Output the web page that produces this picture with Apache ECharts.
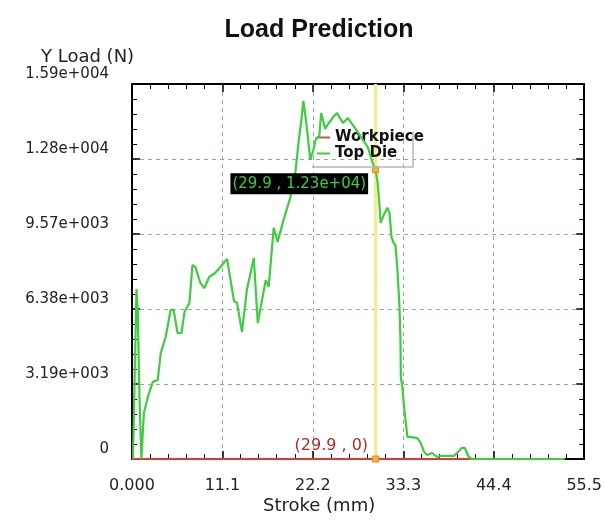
<!DOCTYPE html>
<html>
<head>
<meta charset="utf-8">
<script src="https://cdn.jsdelivr.net/npm/echarts@6/dist/echarts.min.js"></script>
<style>
  html, body { margin: 0; padding: 0; background: #fff; }
  #chart { width: 605px; height: 529px; }
</style>
</head>
<body>
<div id="chart"></div>
<script>
// tick labels as printed by the solver
const xTickLabels = ['0.000', '11.1', '22.2', '33.3', '44.4', '55.5'];
const yTickLabels = ['0', '3.19e+003', '6.38e+003', '9.57e+003', '1.28e+004', '1.59e+004'];
const xStep = 11.1;
const yStep = 3190;

// Top Die load curve, stroke (mm) / load (N)
const topDieStroke = [
  0.12, 0.55, 0.70, 0.92, 1.15, 1.46, 1.95, 2.55, 3.16, 3.53,
  4.13, 4.74, 5.11, 5.59, 6.08, 6.44, 7.05, 7.42, 7.78, 8.39,
  8.88, 9.48, 10.21, 11.06, 11.67, 11.91, 12.52, 12.89, 13.50, 14.10,
  14.95, 15.44, 16.41, 16.78, 17.39, 17.87, 18.60, 19.45, 20.06, 20.43,
  20.79, 21.03, 21.40, 21.88, 22.25, 22.61, 22.98, 23.22, 23.71, 24.07,
  24.44, 24.80, 25.17, 25.53, 25.90, 26.50, 27.36, 28.08, 28.94, 29.54,
  29.90, 30.15, 30.39, 30.52, 31.00, 31.37, 31.61, 31.85, 32.10, 32.34,
  32.58, 32.83, 32.95, 33.00, 33.19, 33.43, 33.80, 34.16, 35.01, 35.38,
  35.86, 36.23, 36.84, 37.45, 37.81, 39.51, 39.88, 40.48, 40.85, 41.34,
  41.70, 53.10
];
const topDieLoad = [
  0, 7230, 6300, 2600, 0, 1960, 2640, 3280, 3360, 4510,
  5190, 6340, 6340, 5360, 5360, 6250, 6640, 8250, 8170, 7490,
  7270, 7740, 7910, 8250, 8510, 8550, 6720, 6640, 5400, 7190,
  8550, 5780, 7610, 7320, 9830, 9230, 10170, 11140, 12210, 13440,
  14420, 15230, 14290, 12720, 13140, 13650, 13700, 14720, 14040, 14250,
  14420, 14590, 14720, 14500, 14290, 14500, 14080, 13700, 13270, 12590,
  12300, 11740, 10720, 10040, 10460, 10680, 10460, 9440, 9190, 9100,
  8040, 6470, 5060, 3450, 3060, 2080, 940, 940, 890, 720,
  300, 170, 255, 85, 130, 130, 255, 470, 470, 85,
  0, 0
];

// Workpiece stays at zero
const workpieceStroke = [0, 53.1];
const workpieceLoad = [0, 0];

// cursor readout
const cursorStroke = 29.9;
const cursorTopDie = 12300;
const cursorWorkpiece = 0;
const cursorTopDieText = '(29.9 , 1.23e+04)';
const cursorWorkpieceText = '(29.9 , 0)';

const chart = echarts.init(document.getElementById('chart'), null, { renderer: 'canvas' });

function zip(xs, ys) {
  return xs.map((x, i) => [x, ys[i]]);
}

const tickFont = 'DejaVu Sans';

function xAxisCfg(pos, showLabel) {
  return {
    type: 'value',
    position: pos,
    min: 0,
    max: 55.5,
    interval: xStep,
    axisLine: { show: true, onZero: false, lineStyle: { color: '#000', width: 2 } },
    axisTick: { show: true, inside: true, length: 8, lineStyle: { color: '#000', width: 1.5 } },
    minorTick: { show: true, splitNumber: 5, length: 5, lineStyle: { color: '#000', width: 1 } },
    axisLabel: {
      show: showLabel,
      margin: 19,
      fontFamily: tickFont,
      fontSize: 16,
      color: '#222',
      formatter: v => xTickLabels[Math.round(v / xStep)]
    },
    splitLine: {
      show: showLabel,
      lineStyle: { color: '#8fb08f', type: [4, 4], width: 1 }
    }
  };
}

function yAxisCfg(pos, showLabel) {
  return {
    type: 'value',
    position: pos,
    min: 0,
    max: 15950,
    interval: yStep,
    axisLine: { show: true, onZero: false, lineStyle: { color: '#000', width: 2 } },
    axisTick: { show: true, inside: true, length: 8, lineStyle: { color: '#000', width: 1.5 } },
    minorTick: { show: true, splitNumber: 5, length: 5, lineStyle: { color: '#000', width: 1 } },
    axisLabel: {
      show: showLabel,
      margin: 23,
      fontFamily: tickFont,
      fontSize: 15,
      color: '#222',
      verticalAlign: 'bottom',
      padding: [0, 0, 2, 0],
      formatter: v => yTickLabels[Math.round(v / yStep)]
    },
    splitLine: {
      show: showLabel,
      lineStyle: { color: '#8fb08f', type: [4, 4], width: 1 }
    }
  };
}

const option = {
  backgroundColor: '#fff',
  animation: false,
  title: [
    {
      text: 'Load Prediction',
      left: 314,
      top: 13,
      textAlign: 'center',
      textStyle: { fontFamily: 'Liberation Sans', fontWeight: 'bold', fontSize: 25, color: '#111' }
    },
    {
      text: 'Y Load (N)',
      left: 36,
      top: 43,
      textStyle: { fontFamily: tickFont, fontWeight: 'normal', fontSize: 18, color: '#222' }
    },
    {
      text: 'Stroke (mm)',
      left: 258,
      top: 492,
      textStyle: { fontFamily: tickFont, fontWeight: 'normal', fontSize: 18, color: '#222' }
    }
  ],
  legend: {
    orient: 'vertical',
    left: 312,
    top: 128,
    padding: [2, 4, 2, 5],
    itemGap: 1,
    itemWidth: 13,
    itemHeight: 2,
    icon: 'rect',
    textStyle: { fontFamily: tickFont, fontWeight: 'bold', fontSize: 15, lineHeight: 15, color: '#111' },
    data: ['Workpiece', 'Top Die']
  },
  graphic: [
    {
      type: 'polyline',
      shape: { points: [[312, 167], [413, 167], [413, 132]] },
      style: { stroke: '#b8b8b8', lineWidth: 1.5, fill: null },
      z: 10
    }
  ],
  grid: { left: 132, right: 17, top: 84, bottom: 70, containLabel: false },
  xAxis: [xAxisCfg('bottom', true), xAxisCfg('top', false)],
  yAxis: [yAxisCfg('left', true), yAxisCfg('right', false)],
  series: [
    {
      name: 'Workpiece',
      type: 'line',
      xAxisIndex: 0,
      yAxisIndex: 0,
      data: zip(workpieceStroke, workpieceLoad),
      showSymbol: false,
      color: '#d8532e',
      lineStyle: { color: '#dd3b33', width: 2 },
      z: 3,
      markLine: {
        silent: true,
        symbol: ['none', 'none'],
        z: 1,
        label: { show: false },
        lineStyle: { color: '#f3ee86', width: 3, type: 'solid' },
        data: [{ xAxis: cursorStroke }]
      },
      markPoint: {
        symbol: 'rect',
        symbolSize: 6,
        itemStyle: { color: '#f2b04a', borderColor: '#d98a20', borderWidth: 1 },
        label: {
          show: true,
          position: 'left',
          distance: 4,
          offset: [0, -13],
          fontFamily: tickFont,
          fontSize: 16,
          color: '#b22a2a',
          formatter: cursorWorkpieceText
        },
        data: [{ coord: [cursorStroke, cursorWorkpiece] }]
      }
    },
    {
      name: 'Top Die',
      type: 'line',
      xAxisIndex: 0,
      yAxisIndex: 0,
      data: zip(topDieStroke, topDieLoad),
      showSymbol: false,
      color: '#3ccf3c',
      lineStyle: { color: '#3ccf3c', width: 2.2 },
      z: 4,
      markPoint: {
        symbol: 'rect',
        symbolSize: 6,
        itemStyle: { color: '#f2b04a', borderColor: '#d98a20', borderWidth: 1 },
        label: {
          show: true,
          position: 'left',
          distance: 4,
          offset: [0, 14],
          fontFamily: tickFont,
          fontSize: 15,
          lineHeight: 15,
          color: '#3ccf3c',
          backgroundColor: '#000',
          padding: [3, 2, 3, 2],
          formatter: cursorTopDieText
        },
        data: [{ coord: [cursorStroke, cursorTopDie] }]
      }
    }
  ]
};

chart.setOption(option);
</script>
</body>
</html>
